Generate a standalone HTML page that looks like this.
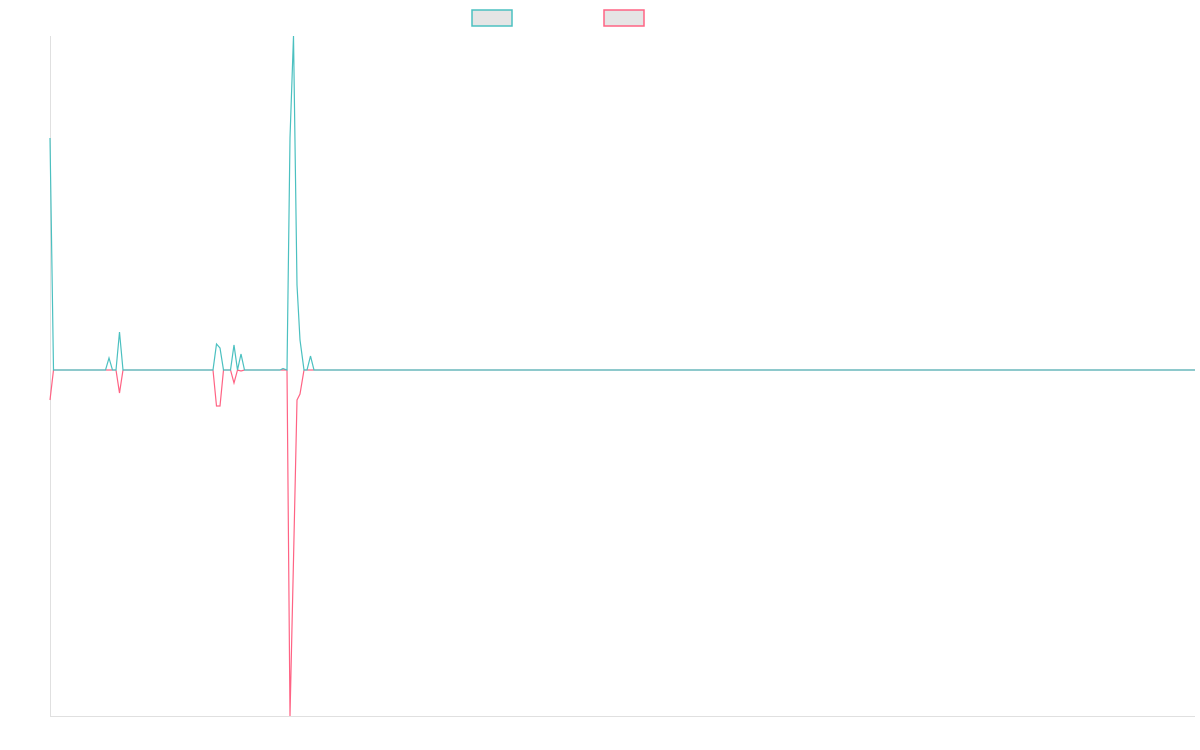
<!DOCTYPE html>
<html><head><meta charset="utf-8"><style>html,body{margin:0;padding:0;background:#fff}svg{display:block}</style></head>
<body>
<svg width="1200" height="750" xmlns="http://www.w3.org/2000/svg">
<rect x="472" y="10" width="40" height="16" fill="#e5e5e5" stroke="#4bc0c0" stroke-width="1.5"/>
<rect x="604" y="10" width="40" height="16" fill="#e5e5e5" stroke="#ff6384" stroke-width="1.5"/>
<line x1="50.5" y1="36" x2="50.5" y2="716" stroke="#e0e0e0" stroke-width="1"/>
<line x1="50" y1="716.5" x2="1195" y2="716.5" stroke="#e0e0e0" stroke-width="1"/>
<polyline fill="none" stroke="#ff6384" stroke-width="1.2" points="50,400 53.5,370 105.5,370 109,370 116,370 119.5,393 123,370 213,370 216.5,406 220,406 223.5,370 230.5,370 234,383 237.5,370 241,371 244.5,370 283,370 287,370 290,716 293.5,560 297,400 300,394 304,370 1195,370"/>
<polyline fill="none" stroke="#4bc0c0" stroke-width="1.2" points="50,138 53.5,370 105.5,370 109,358 112.5,370 116,370 119.5,332 123,370 213,370 216.5,344 220,348 223.5,370 230.5,370 234,345 237.5,370 241,354 244.5,370 280,370 283,368.5 287,370 290,138 293.5,36 297,285 300,340 304,370 307,370 310.5,356 314,370 1195,370"/>
</svg>
</body></html>
